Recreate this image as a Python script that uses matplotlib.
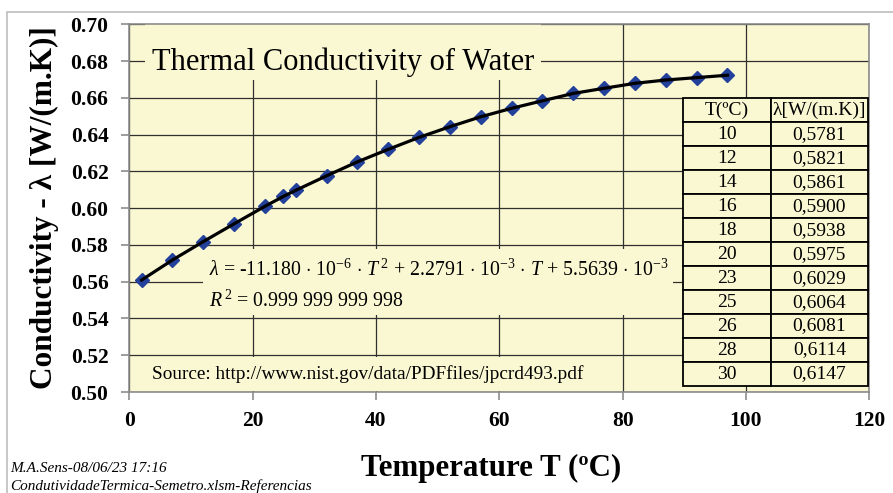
import numpy as np
import matplotlib.pyplot as plt
from matplotlib.patches import Rectangle
from matplotlib.ticker import FormatStrFormatter

# data (temperature in C, conductivity W/(m.K))
T = [2, 7, 12, 17, 22, 25, 27, 32, 37, 42, 47, 52, 57, 62, 67, 72, 77, 82, 87, 92, 97]
lam = [0.5609, 0.5718, 0.5818, 0.5915, 0.6010, 0.6064, 0.6097, 0.6176, 0.6252, 0.6320,
       0.6385, 0.6443, 0.6497, 0.6543, 0.6584, 0.6624, 0.6652, 0.6679, 0.6697, 0.6710, 0.6723]

# reference table
tab_T = ['10', '12', '14', '16', '18', '20', '23', '25', '26', '28', '30']
tab_lam = ['0,5781', '0,5821', '0,5861', '0,5900', '0,5938', '0,5975',
           '0,6029', '0,6064', '0,6081', '0,6114', '0,6147']
tab_head = ['T(ºC)', 'λ[W/(m.K)]']

plt.rcParams['font.family'] = 'Liberation Serif'
plt.rcParams['mathtext.fontset'] = 'custom'
plt.rcParams['mathtext.rm'] = 'Liberation Serif'
plt.rcParams['mathtext.it'] = 'Liberation Serif:italic'

W, H = 893, 493
bg = '#FAF8D2'

fig = plt.figure(figsize=(W / 100, H / 100), dpi=100)
ax = fig.add_axes([129.3 / W, 101 / H, 740 / W, 367.7 / H])
ax.set_facecolor(bg)
ax.set_xlim(0, 120)
ax.set_ylim(0.5, 0.7)
ax.set_xticks(range(0, 121, 20))
ax.set_yticks(np.arange(0.5, 0.7001, 0.02))
ax.yaxis.set_major_formatter(FormatStrFormatter('%.2f'))
ax.grid(True, color='#303030', lw=0.9)
ax.set_axisbelow(True)
for s in ax.spines.values():
    s.set_color('#8c8c8c')
    s.set_linewidth(1.2)
ax.tick_params(length=6, width=1.2, color='#8c8c8c', labelsize=15.5)
ax.tick_params(axis='y', pad=9)
ax.tick_params(axis='x', pad=8)
for lb in ax.get_xticklabels() + ax.get_yticklabels():
    lb.set_fontweight('bold')

# boxes that hide the grid behind the texts
ax.add_patch(Rectangle((2.55, 0.6697), 64.25, 0.0303, fc=bg, ec='none', zorder=1))
ax.add_patch(Rectangle((12.0, 0.5419), 76.2, 0.0359, fc=bg, ec='none', zorder=1))
ax.add_patch(Rectangle((0.3, 0.5008), 76.1, 0.0183, fc=bg, ec='none', zorder=1))

ax.plot(T, lam, 'D', ms=7, color='#23409A', zorder=3)
ax.plot(T, lam, '-', color='black', lw=2.3, zorder=4)

ax.text(3.7, 0.6795, 'Thermal Conductivity of Water', fontsize=22, va='center', zorder=2)
ax.text(12.9, 0.5664,
        r'$\lambda$ = -11.180 $\cdot$ 10$^{-6}$ $\cdot$ $T^{\,2}$ + 2.2791 $\cdot$ 10$^{-3}$'
        r' $\cdot$ $T$ + 5.5639 $\cdot$ 10$^{-3}$', fontsize=14.3, va='center', zorder=2)
ax.text(12.9, 0.5495, r'$R^{\,2}$ = 0.999 999 999 998', fontsize=14.3, va='center', zorder=2)
ax.text(3.7, 0.5099, 'Source: http://www.nist.gov/data/PDFfiles/jpcrd493.pdf',
        fontsize=13.9, va='center', zorder=2)

cells = [[a, b] for a, b in zip(tab_T, tab_lam)]
tbl = ax.table(cellText=cells, colLabels=tab_head, cellLoc='center',
               colWidths=[0.472, 0.528], bbox=[0.7486, 0.0163, 0.25, 0.7824])
tbl.auto_set_font_size(False)
tbl.set_fontsize(14)
for c in tbl.get_celld().values():
    c.set_facecolor(bg)
    c.set_edgecolor('black')
    c.set_linewidth(1.3)
tbl.set_zorder(5)

fig.text(44 / W, 1 - 208 / H, 'Conductivity - λ [W/(m.K)]', fontsize=22.5, fontweight='bold',
         rotation=90, ha='center', va='center')
fig.text(491 / W, 1 - 468 / H, 'Temperature T (ºC)', fontsize=22.3, fontweight='bold',
         ha='center', va='center')
fig.text(10 / W, 1 - 468 / H, 'M.A.Sens-08/06/23 17:16', fontsize=11, style='italic', va='center')
fig.text(10 / W, 1 - 486 / H, 'CondutividadeTermica-Semetro.xlsm-Referencias', fontsize=11,
         style='italic', va='center')

# chart area frame (cut by the screenshot on the right and bottom)
fig.add_artist(Rectangle((7 / W, -0.5), 2, 1.5 - 11.7 / H, transform=fig.transFigure,
                         fill=False, ec='#bdbdbd', lw=1.2))

fig.savefig('out.png', dpi=100)
